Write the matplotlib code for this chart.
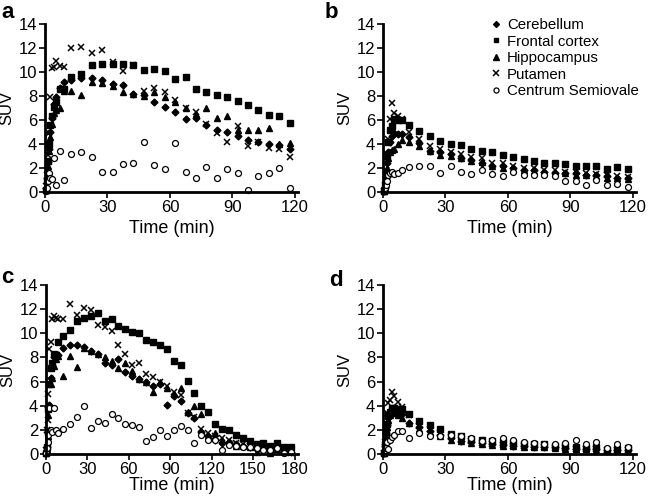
import matplotlib
matplotlib.use("Agg")
import matplotlib.pyplot as plt

plt.rcParams['font.family'] = ['Liberation Sans', 'DejaVu Sans']

# frame mid-times (min)
t_120 = [0.25, 0.75, 1.25, 1.75, 2.5, 3.5, 4.5, 5.5, 7.0, 9.0,
         12.5, 17.5, 22.5, 27.5, 32.5, 37.5, 42.5, 47.5, 52.5, 57.5, 62.5,
         67.5, 72.5, 77.5, 82.5, 87.5, 92.5, 97.5, 102.5, 107.5, 112.5, 117.5]
t_180 = t_120 + [122.5, 127.5, 132.5, 137.5, 142.5, 147.5, 152.5, 157.5,
                 162.5, 167.5, 172.5, 177.5]

regions = ["Cerebellum", "Frontal cortex", "Hippocampus", "Putamen",
           "Centrum Semiovale"]

# panel a
a_cer = [0.3, 1.2, 2.5, 3.6, 5.0, 6.2, 7.3, 7.9, 8.7, 9.2,
         9.3, 9.5, 9.5, 9.3, 9.0, 8.9, 8.2, 8.1, 7.5, 7.1, 6.7,
         6.1, 6.2, 5.6, 5.2, 5.0, 4.7, 4.3, 4.2, 4.0, 3.9, 3.6]
a_fro = [0.2, 1.0, 2.6, 4.0, 5.6, 6.3, 7.1, 7.5, 8.6, 8.6,
         9.6, 9.8, 10.6, 10.7, 10.7, 10.7, 10.6, 10.2, 10.25, 10.1, 9.45,
         9.55, 8.55, 8.35, 8.05, 7.9, 7.6, 7.25, 6.8, 6.45, 6.3, 5.75]
a_hip = [0.2, 1.0, 2.2, 3.4, 4.6, 5.7, 6.6, 6.8, 7.0, 8.4,
         8.4, 8.1, 9.2, 9.1, 8.8, 8.3, 8.2, 8.0, 8.3, 7.95, 7.5,
         7.0, 6.5, 7.0, 6.2, 6.3, 5.2, 5.2, 5.2, 5.3, 4.0, 4.1]
a_put = [0.5, 1.8, 3.1, 4.9, 7.9, 10.3, 10.45, 10.9, 10.5, 10.4,
         12.0, 12.05, 11.55, 11.85, 10.8, 10.1, 10.6, 8.4, 8.7, 8.3, 7.7,
         7.0, 6.7, 5.7, 4.9, 4.2, 5.5, 3.8, 4.2, 3.7, 3.6, 2.95]
a_cso = [0.1, 0.3, 0.9, 1.6, 1.2, 1.1, 2.8, 0.6, 3.45, 1.0,
         3.15, 3.3, 2.95, 1.7, 1.7, 2.3, 2.4, 4.2, 2.25, 1.9, 4.1,
         1.7, 1.15, 2.1, 1.15, 1.9, 1.6, 0.15, 1.3, 1.55, 2.0, 0.3]

# panel b
b_cer = [0.1, 0.4, 1.2, 2.4, 3.3, 4.2, 4.7, 4.9, 4.8, 4.8,
         4.6, 4.1, 3.45, 3.3, 3.2, 2.85, 2.7, 2.4, 2.2, 2.15, 2.0,
         1.85, 1.8, 1.65, 1.6, 1.6, 1.55, 1.45, 1.45, 1.3, 1.2, 1.15]
b_fro = [0.1, 0.5, 1.5, 3.0, 4.2, 5.2, 5.5, 6.1, 6.0, 6.0,
         5.55, 5.1, 4.7, 4.25, 4.0, 3.9, 3.6, 3.45, 3.3, 3.05, 2.95,
         2.75, 2.55, 2.45, 2.4, 2.35, 2.15, 2.2, 2.15, 1.95, 2.05, 1.9]
b_hip = [0.1, 0.3, 1.0, 2.0, 2.8, 3.3, 3.5, 3.6, 4.0, 4.3,
         4.2, 3.8, 3.4, 3.1, 3.0, 2.8, 2.6, 2.5, 2.2, 2.0, 1.9,
         1.8, 1.75, 1.7, 1.6, 1.55, 1.45, 1.4, 1.3, 1.2, 1.15, 1.05]
b_put = [0.1, 0.6, 1.8, 3.2, 4.4, 6.1, 7.4, 6.6, 6.3, 6.1,
         5.0, 4.4, 3.8, 3.6, 3.3, 3.2, 2.95, 2.8, 2.4, 2.4, 2.2,
         2.0, 2.0, 1.8, 1.85, 1.7, 1.65, 1.6, 1.5, 1.45, 1.3, 1.25]
b_cso = [0.1, 0.3, 0.6, 0.9, 1.4, 1.55, 1.65, 1.5, 1.6, 1.8,
         2.1, 2.2, 2.2, 1.6, 2.2, 1.65, 1.5, 1.8, 1.5, 1.3, 1.65,
         1.45, 1.45, 1.4, 1.3, 0.95, 0.9, 0.55, 1.0, 0.55, 0.65, 0.4]

# panel c
c_cer = [0.1, 0.6, 1.7, 3.9, 4.1, 6.3, 7.3, 8.0, 8.1, 8.2,
         8.75, 9.05, 9.05, 8.9, 8.5, 8.3, 7.5, 7.4, 7.9, 6.8, 6.5,
         6.2, 6.0, 5.6, 5.8, 4.1, 4.8, 4.4, 3.4, 3.0, 1.8, 1.5,
         1.2, 0.9, 1.0, 0.8, 0.7, 0.6, 0.4, 0.5, 0.2, 0.4, 0.2, 0.2]
c_fro = [0.1, 0.6, 1.8, 3.7, 5.8, 7.1, 7.5, 8.3, 8.2, 9.3,
         9.8, 10.3, 11.0, 11.3, 11.45, 11.65, 11.0, 11.2, 10.6, 10.35, 10.1,
         10.05, 9.45, 9.25, 9.05, 8.7, 7.7, 7.4, 6.05, 5.05, 3.95, 3.45,
         2.5, 2.1, 1.95, 1.6, 1.3, 1.1, 0.85, 0.95, 0.65, 0.95, 0.55, 0.55]
c_hip = [0.1, 0.4, 1.5, 3.2, 4.1, 5.8, 6.3, 7.3, 7.9, 8.1,
         6.5, 8.1, 7.2, 8.75, 8.5, 8.3, 8.0, 7.7, 7.1, 7.5, 6.9,
         6.2, 6.0, 5.1, 5.95, 5.5, 5.0, 5.5, 3.5, 4.0, 3.3, 1.5,
         1.7, 1.2, 1.0, 0.7, 0.7, 0.6, 0.2, 0.5, 0.1, 0.4, 0.2, 0.3]
c_put = [0.3, 2.0, 2.8, 5.0, 8.7, 9.3, 11.2, 11.45, 11.3, 11.15,
         11.15, 12.4, 11.5, 12.1, 11.9, 10.7, 10.5, 10.2, 9.0, 8.3, 7.35,
         7.55, 6.6, 6.4, 6.0, 5.6, 5.1, 4.9, 3.4, 3.05, 2.1, 1.7,
         1.5, 1.3, 1.2, 0.9, 0.8, 0.7, 0.5, 0.4, 0.5, 0.3, 0.3, 0.1]
c_cso = [0.1, 0.5, 1.0, 1.6, 3.8, 2.0, 1.8, 3.8, 2.0, 1.7,
         2.05, 2.5, 3.1, 4.0, 2.15, 2.75, 2.55, 3.3, 3.0, 2.5, 2.4,
         2.2, 1.05, 1.4, 1.95, 1.45, 2.0, 2.35, 2.0, 0.95, 1.6, 1.2,
         1.2, 0.35, 0.75, 0.65, 0.55, 0.6, 0.5, 0.35, 0.3, 0.5, 0.1, 0.2]

# panel d
d_cer = [0.1, 0.7, 1.7, 2.4, 3.0, 3.5, 3.7, 3.8, 3.6, 3.3,
         2.6, 2.2, 1.9, 1.6, 1.3, 1.1, 1.0, 0.9, 0.8, 0.75, 0.7,
         0.65, 0.6, 0.6, 0.55, 0.5, 0.45, 0.45, 0.4, 0.35, 0.3, 0.3]
d_fro = [0.1, 0.8, 1.8, 2.5, 3.2, 3.5, 3.8, 3.8, 3.7, 3.7,
         3.35, 2.7, 2.4, 2.1, 1.65, 1.5, 1.25, 1.15, 1.1, 1.0, 0.95,
         0.85, 0.8, 0.8, 0.65, 0.65, 0.6, 0.5, 0.6, 0.3, 0.45, 0.5]
d_hip = [0.1, 0.6, 1.5, 2.2, 2.8, 3.2, 3.4, 3.4, 3.2, 3.0,
         2.6, 2.1, 1.8, 1.5, 1.2, 1.05, 0.95, 0.85, 0.75, 0.7, 0.65,
         0.6, 0.55, 0.55, 0.5, 0.45, 0.4, 0.4, 0.35, 0.3, 0.3, 0.25]
d_put = [0.1, 1.0, 2.2, 3.4, 4.2, 4.5, 5.1, 4.8, 4.3, 3.9,
         3.2, 2.3, 2.1, 1.7, 1.4, 1.2, 1.1, 0.9, 0.8, 0.75, 0.7,
         0.65, 0.6, 0.55, 0.5, 0.5, 0.45, 0.4, 0.4, 0.35, 0.3, 0.3]
d_cso = [0.1, 0.3, 0.5, 1.0, 0.4, 1.2, 1.4, 1.6, 1.9, 1.9,
         1.3, 1.75, 1.45, 1.5, 1.6, 1.5, 1.3, 1.1, 1.2, 1.3, 1.15,
         1.0, 0.9, 0.85, 0.8, 0.9, 1.15, 0.85, 1.0, 0.5, 0.8, 0.55]

styles = [dict(marker='D', ms=3.5, mfc='k', mec='k'),
          dict(marker='s', ms=4.2, mfc='k', mec='k'),
          dict(marker='^', ms=4.6, mfc='k', mec='k'),
          dict(marker='x', ms=5.0, mec='k', mew=1.1),
          dict(marker='o', ms=4.3, mfc='white', mec='k', mew=0.9)]

# axes box in pixels (x0, y_bottom, x1, y_top), x max, xlabel pad, panel letter baseline
panels = [
    ('a', t_120, [a_cer, a_fro, a_hip, a_put, a_cso], [45, 192, 298, 24], 121.5, 4, (1, 18)),
    ('b', t_120, [b_cer, b_fro, b_hip, b_put, b_cso], [383, 192, 636, 24], 121.5, 4, (325, 18)),
    ('c', t_180, [c_cer, c_fro, c_hip, c_put, c_cso], [46, 454, 298, 285], 182.5, 0, (1, 283)),
    ('d', t_120, [d_cer, d_fro, d_hip, d_put, d_cso], [383, 454, 636, 285], 121.5, 0, (329, 286)),
]

W, H = 648, 503
fig = plt.figure(figsize=(W / 100, H / 100), dpi=100)

for label, t, series, (x0, y0, x1, y1), xmax, lpad, (lx, ly) in panels:
    ax = fig.add_axes([x0 / W, 1 - y0 / H, (x1 - x0) / W, (y0 - y1) / H])
    for name, vals, st in zip(regions, series, styles):
        ax.plot(t, vals, ls='none', label=name, clip_on=False, **st)
    ax.set_xlim(0, xmax)
    ax.set_ylim(0, 14)
    ax.set_yticks(range(0, 15, 2))
    if xmax > 150:
        ax.set_xticks(range(0, 181, 30))
    else:
        ax.set_xticks(range(0, 121, 30))
    for s in ['top', 'right']:
        ax.spines[s].set_visible(False)
    for s in ['left', 'bottom']:
        ax.spines[s].set_linewidth(2)
    ax.tick_params(direction='out', length=4, width=1.2, labelsize=12, pad=1.5)
    ax.set_xlabel('Time (min)', fontsize=13, labelpad=lpad)
    ax.set_ylabel('SUV', fontsize=12, labelpad=3)
    fig.text(lx / W, 1 - ly / H, label, fontsize=16, fontweight='bold',
             va='baseline', ha='left')
    if label == 'b':
        ax.legend(loc='upper left', bbox_to_anchor=(489 / W, 1 - 18 / H),
                  bbox_transform=fig.transFigure, frameon=False,
                  fontsize=10.8, handletextpad=0.3, labelspacing=0.17,
                  handlelength=0.9, borderaxespad=0, borderpad=0,
                  markerscale=0.85)

fig.savefig('out.png', dpi=100)
